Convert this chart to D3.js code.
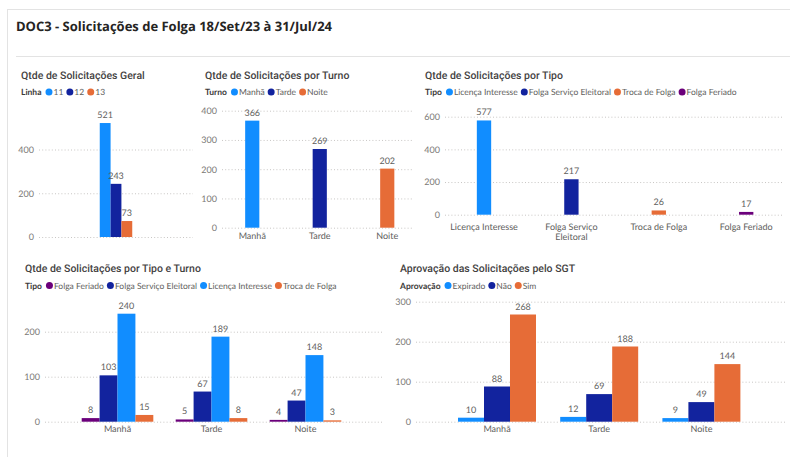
<!DOCTYPE html>
<html>
<head>
<meta charset="utf-8">
<script src="https://cdn.jsdelivr.net/npm/d3@7"></script>
<style>
  html, body { margin: 0; padding: 0; background: #ffffff; }
  svg { display: block; text-rendering: geometricPrecision; }
  .title { font-family: "Open Sans", sans-serif; font-weight: 700; fill: #252423; }
  .ptitle { font-family: Roboto, sans-serif; font-weight: 500; fill: #44423f; }
  .lgtitle { font-family: Lato, sans-serif; font-weight: 700; fill: #3b3a39; }
  .lgitem { font-family: Lato, sans-serif; fill: #605e5c; }
  .dlabel { font-family: Lato, sans-serif; fill: #605e5c; }
</style>
</head>
<body>
<svg id="chart" width="790" height="457"></svg>
<script>
// ---- data ----
const shifts = ["Manhã", "Tarde", "Noite"];

const lineNames = ["11", "12", "13"];
const lineCounts = [521, 243, 73];
const lineTicks = [0, 200, 400];

const shiftCounts = [366, 269, 202];
const shiftTicks = [0, 100, 200, 300, 400];

const typeNames = ["Licença Interesse", "Folga Serviço Eleitoral", "Troca de Folga", "Folga Feriado"];
const typeCounts = [577, 217, 26, 17];
const typeTicks = [0, 200, 400, 600];

const typeShiftSeries = ["Folga Feriado", "Folga Serviço Eleitoral", "Licença Interesse", "Troca de Folga"];
const feriadoByShift = [8, 5, 4];
const eleitoralByShift = [103, 67, 47];
const licencaByShift = [240, 189, 148];
const trocaByShift = [15, 8, 3];
const typeShiftTicks = [0, 100, 200];

const approvalNames = ["Expirado", "Não", "Sim"];
const expiradoByShift = [10, 12, 9];
const naoByShift = [88, 69, 49];
const simByShift = [268, 188, 144];
const approvalTicks = [0, 100, 200, 300];

// ---- palette ----
const C = { light: "#118dff", dark: "#12239e", orange: "#e66c37", purple: "#6b007b" };
const FS = 9;            // small text size
const LFS = 8.5;         // legend text size
const SMALL = "Lato, sans-serif";

const svg = d3.select("#chart");

// page frame
svg.append("line").attr("x1", 7.5).attr("x2", 7.5).attr("y1", 9).attr("y2", 457).attr("stroke", "#e3e3e3");
svg.append("line").attr("x1", 7).attr("x2", 790).attr("y1", 9.5).attr("y2", 9.5).attr("stroke", "#e3e3e3");
svg.append("line").attr("x1", 16).attr("x2", 790).attr("y1", 56.5).attr("y2", 56.5).attr("stroke", "#e3e3e3");

svg.append("text").attr("class", "title").attr("x", 16).attr("y", 31)
  .attr("font-size", 13).text("DOC3 - Solicitações de Folga 18/Set/23 à 31/Jul/24");

function legend(x, y, label, names, colors) {
  const g = svg.append("g");
  const t = g.append("text").attr("class", "lgtitle").attr("x", x).attr("y", y + 3)
    .attr("font-size", LFS).text(label);
  let cx = x + t.node().getComputedTextLength() + 7.5;
  names.forEach((n, i) => {
    g.append("circle").attr("cx", cx).attr("cy", y).attr("r", 3.5).attr("fill", colors[i]);
    const it = g.append("text").attr("class", "lgitem").attr("x", cx + 4.5).attr("y", y + 3)
      .attr("font-size", LFS).text(n);
    cx += 4.5 + it.node().getComputedTextLength() + 6.5;
  });
}

function header(o) {
  svg.append("text").attr("class", "ptitle").attr("x", o.tx).attr("y", o.ty)
    .attr("font-size", 10.5).text(o.title);
  legend(o.tx, o.ty + 13.5, o.legendTitle, o.legendNames, o.legendColors);
}

// dotted gridlines with value labels on the left
function grid(g, y, o) {
  const ax = g.append("g").attr("transform", `translate(${o.gx[0]},0)`)
    .call(d3.axisLeft(y).tickValues(o.ticks).tickSize(0).tickPadding(0));
  ax.select(".domain").remove();
  ax.selectAll(".tick line").attr("x2", o.gx[1] - o.gx[0]).attr("stroke", "#c8c6c4")
    .attr("stroke-dasharray", "1,2.2");
  ax.selectAll(".tick text").attr("x", -5).attr("font-size", FS)
    .attr("font-family", SMALL).attr("fill", "#7a7875");
}

function catAxis(g, x, o) {
  const xa = g.append("g").attr("transform", `translate(0,${o.yRange[0] + o.catOffset})`)
    .call(d3.axisBottom(x).tickSize(0).tickPadding(0));
  xa.select(".domain").remove();
  xa.selectAll(".tick text").attr("font-size", FS).attr("font-family", SMALL)
    .attr("fill", "#605e5c").attr("dy", 0)
    .each(function (d) {
      const lines = (o.wrap && o.wrap[d]) || [d];
      const t = d3.select(this).text(null);
      lines.forEach((ln, k) => t.append("tspan").attr("x", 0).attr("dy", k === 0 ? "0.71em" : "1.2em").text(ln));
    });
}

// grouped bar panel
function grouped(o) {
  header(o);
  const g = svg.append("g");
  const y = d3.scaleLinear().domain(o.yDomain).range(o.yRange);
  const x0 = d3.scaleBand().domain(o.categories).range(o.xRange)
    .paddingInner(o.pad).paddingOuter(o.pad / 2);
  const x1 = d3.scaleBand().domain(d3.range(o.series.length)).range([0, x0.bandwidth()]);
  grid(g, y, o);
  o.categories.forEach((cat, ci) => {
    o.series.forEach((s, si) => {
      const v = s.values[ci];
      const bx = x0(cat) + x1(si);
      g.append("rect").attr("x", bx).attr("width", x1.bandwidth())
        .attr("y", y(v)).attr("height", y(0) - y(v)).attr("fill", s.color);
      g.append("text").attr("class", "dlabel").attr("x", bx + x1.bandwidth() / 2)
        .attr("y", y(v) - 5).attr("text-anchor", "middle").attr("font-size", FS).text(v);
    });
  });
  if (o.showCats) catAxis(g, x0, o);
}

// one bar per category, each in its own colour
function single(o) {
  header(o);
  const g = svg.append("g");
  const y = d3.scaleLinear().domain(o.yDomain).range(o.yRange);
  const x = d3.scaleBand().domain(o.categories).range(o.xRange).paddingInner(o.pad).paddingOuter(o.pad / 2);
  grid(g, y, o);
  o.categories.forEach((c, i) => {
    const v = o.values[i];
    g.append("rect").attr("x", x(c)).attr("width", x.bandwidth()).attr("y", y(v))
      .attr("height", y(0) - y(v)).attr("fill", o.legendColors[i]);
    g.append("text").attr("class", "dlabel").attr("x", x(c) + x.bandwidth() / 2).attr("y", y(v) - 5)
      .attr("text-anchor", "middle").attr("font-size", FS).text(v);
  });
  catAxis(g, x, o);
}

// Qtde de Solicitações Geral: one group, one bar per line
grouped({
  title: "Qtde de Solicitações Geral", tx: 21, ty: 78.5,
  legendTitle: "Linha", legendNames: lineNames, legendColors: [C.light, C.dark, C.orange],
  categories: [""], pad: 0.789, xRange: [39, 193], gx: [39, 193],
  yDomain: [0, 400], yRange: [237, 149.5], ticks: lineTicks,
  series: lineNames.map((n, i) => ({ values: [lineCounts[i]], color: [C.light, C.dark, C.orange][i] })),
  showCats: false
});

// Qtde de Solicitações por Turno
single({
  title: "Qtde de Solicitações por Turno", tx: 205, ty: 78.5,
  legendTitle: "Turno", legendNames: shifts, legendColors: [C.light, C.dark, C.orange],
  categories: shifts, values: shiftCounts, pad: 0.79,
  xRange: [218.5, 421], gx: [222, 414], yDomain: [0, 400], yRange: [227.7, 110.7], ticks: shiftTicks,
  catOffset: 5
});

// Qtde de Solicitações por Tipo
single({
  title: "Qtde de Solicitações por Tipo", tx: 425, ty: 78.5,
  legendTitle: "Tipo", legendNames: typeNames, legendColors: [C.light, C.dark, C.orange, C.purple],
  categories: typeNames, values: typeCounts, pad: 0.836,
  xRange: [440.3, 789.9], gx: [445, 784], yDomain: [0, 600], yRange: [214.7, 116.7], ticks: typeTicks,
  catOffset: 8.5, wrap: { "Folga Serviço Eleitoral": ["Folga Serviço", "Eleitoral"] }
});

// Qtde de Solicitações por Tipo e Turno
grouped({
  title: "Qtde de Solicitações por Tipo e Turno", tx: 25, ty: 272,
  legendTitle: "Tipo", legendNames: typeShiftSeries, legendColors: [C.purple, C.dark, C.light, C.orange],
  categories: shifts, pad: 0.238, xRange: [70.5, 352.5], gx: [45, 382],
  yDomain: [0, 200], yRange: [421.7, 331.7], ticks: typeShiftTicks,
  series: [
    { values: feriadoByShift, color: C.purple },
    { values: eleitoralByShift, color: C.dark },
    { values: licencaByShift, color: C.light },
    { values: trocaByShift, color: C.orange }
  ],
  showCats: true, catOffset: 4
});

// Aprovação das Solicitações pelo SGT
grouped({
  title: "Aprovação das Solicitações pelo SGT", tx: 400, ty: 272,
  legendTitle: "Aprovação", legendNames: approvalNames, legendColors: [C.light, C.dark, C.orange],
  categories: shifts, pad: 0.237, xRange: [445.9, 752.5], gx: [416, 785],
  yDomain: [0, 300], yRange: [421.7, 301.7], ticks: approvalTicks,
  series: [
    { values: expiradoByShift, color: C.light },
    { values: naoByShift, color: C.dark },
    { values: simByShift, color: C.orange }
  ],
  showCats: true, catOffset: 4
});
</script>
</body>
</html>
